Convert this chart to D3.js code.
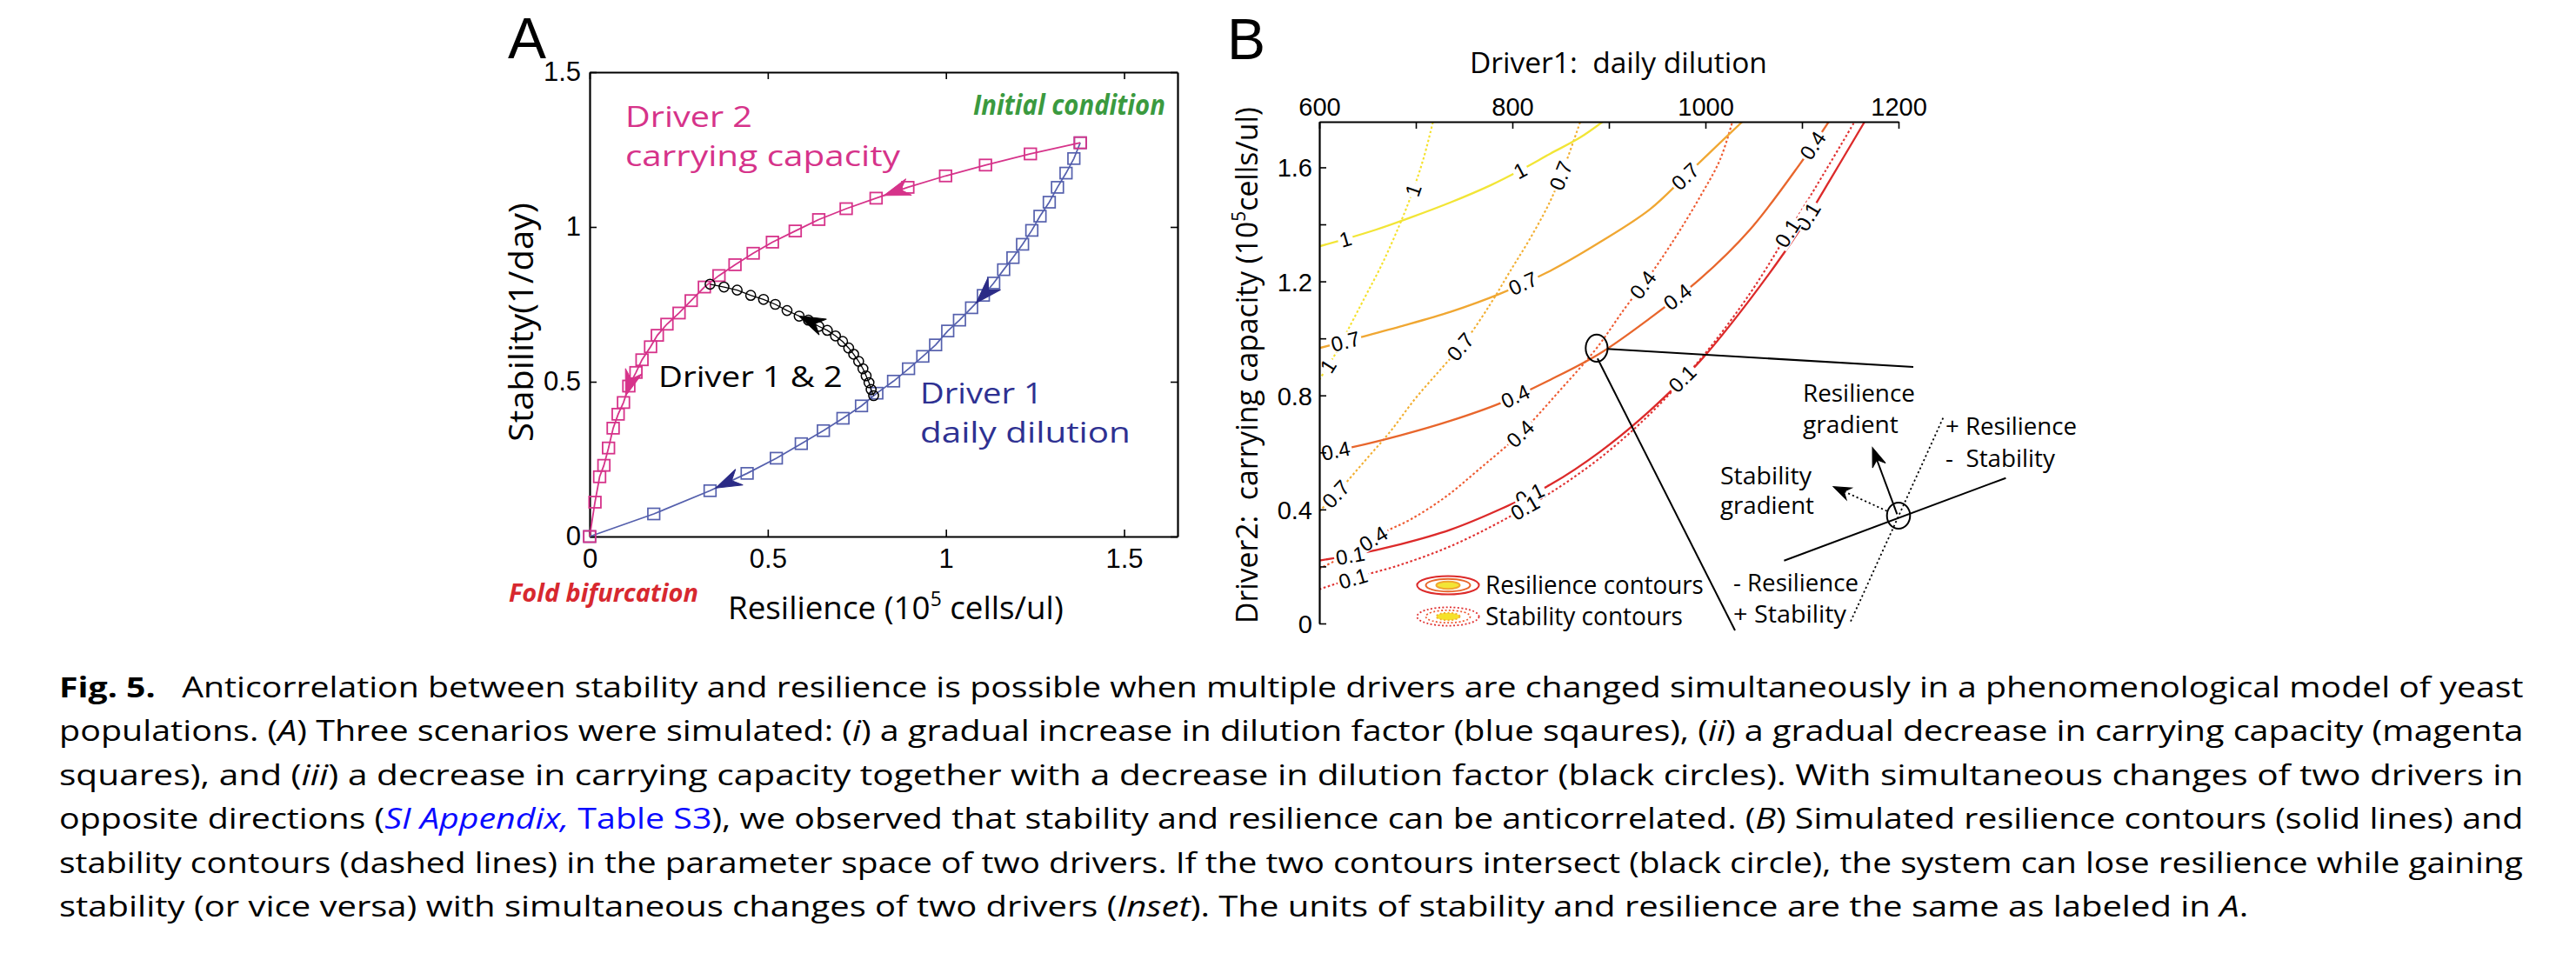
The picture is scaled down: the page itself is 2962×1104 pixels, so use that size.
<!DOCTYPE html>
<html><head><meta charset="utf-8">
<script src="https://cdn.jsdelivr.net/npm/d3@7"></script>
<style>
body{margin:0;background:#fff}
svg{display:block}
text{white-space:pre}
</style>
</head><body>
<svg id="fig" width="2962" height="1104"></svg>
<script>
// ===================== DATA =====================
// Panel A : resilience (x) vs stability (y)
const driver2Res  = [1.377,1.237,1.111,0.999,0.893,0.804,0.720,0.643,0.577,0.513,0.459,0.408,0.363,0.322,0.285,0.251,0.217,0.190,0.171,0.147,0.130,0.110,0.095,0.080,0.066,0.053,0.040,0.028,0.015,0];
const driver2Stab = [1.272,1.236,1.200,1.165,1.128,1.093,1.059,1.024,0.987,0.951,0.915,0.878,0.843,0.806,0.762,0.722,0.686,0.650,0.613,0.571,0.530,0.486,0.433,0.395,0.350,0.286,0.230,0.193,0.111,0];
const driver1Res  = [1.377,1.359,1.337,1.313,1.290,1.264,1.241,1.215,1.188,1.162,1.134,1.105,1.072,1.038,1.005,0.971,0.935,0.895,0.853,0.806,0.763,0.711,0.656,0.594,0.524,0.442,0.338,0.180,0];
const driver1Stab = [1.272,1.221,1.174,1.128,1.080,1.035,0.989,0.944,0.901,0.862,0.819,0.779,0.739,0.699,0.664,0.619,0.582,0.542,0.502,0.463,0.422,0.382,0.342,0.300,0.253,0.204,0.148,0.073,0];
const bothRes  = [0.797,0.790,0.784,0.776,0.767,0.755,0.741,0.727,0.710,0.690,0.667,0.643,0.614,0.588,0.554,0.521,0.488,0.452,0.414,0.377,0.338];
const bothStab = [0.455,0.475,0.497,0.519,0.542,0.566,0.589,0.609,0.630,0.648,0.666,0.679,0.699,0.712,0.730,0.750,0.766,0.779,0.796,0.806,0.815];
// arrow positions (fractional index along each series)
const driver2Arrows = [4.75, 21.6];
const driver1Arrows = [11.6, 25.85];
const bothArrows = [13];
const aTicks = [0, 0.5, 1, 1.5];

// Panel B : contours over Driver1 (daily dilution) x Driver2 (carrying capacity)
const levels = ["1", "0.7", "0.4", "0.1"];
const res1D1 = [600,627.4,658.4,694.6,735.9,777.3,808.3,839.3,870.3,893.5];
const res1D2 = [1.323,1.349,1.381,1.424,1.477,1.537,1.590,1.648,1.705,1.760];
const res07D1 = [600,632.6,684.2,735.9,787.6,839.3,891.0,942.6,978.8,1009.8,1038.2];
const res07D2 = [0.966,0.995,1.042,1.093,1.157,1.237,1.338,1.453,1.568,1.669,1.760];
const res04D1 = [600,632.6,684.2,735.9,787.6,839.3,891.0,942.6,994.3,1046.0,1097.7,1127.7];
const res04D2 = [0.595,0.617,0.660,0.711,0.773,0.855,0.948,1.071,1.208,1.381,1.611,1.760];
const res01D1 = [600,632.6,684.2,735.9,787.6,839.3,891.0,942.6,994.3,1046.0,1097.7,1128.7,1164.9];
const res01D2 = [0.221,0.239,0.278,0.329,0.401,0.487,0.603,0.747,0.920,1.136,1.381,1.554,1.760];
const stab1D1 = [600,617.1,632.6,648.1,663.6,679.1,694.6,707.5,717.8];
const stab1D2 = [0.855,0.948,1.049,1.150,1.251,1.366,1.496,1.626,1.760];
const stab07D1 = [600,622.2,648.1,673.9,699.7,725.6,751.4,777.3,797.9,818.6,839.3,854.8,870.3];
const stab07D2 = [0.393,0.473,0.574,0.675,0.790,0.891,0.992,1.121,1.237,1.352,1.482,1.611,1.760];
const stab04D1 = [600,632.6,663.6,694.6,730.8,766.9,808.3,849.6,887.3,916.8,942.6,968.5,994.3,1015.0,1027.9];
const stab04D2 = [0.192,0.249,0.314,0.365,0.444,0.545,0.667,0.819,0.966,1.107,1.222,1.352,1.496,1.626,1.760];
const stab01D1 = [600,632.6,684.2,735.9,787.6,839.3,891.0,942.6,994.3,1046.0,1092.5,1123.5,1154.5];
const stab01D2 = [0.120,0.156,0.206,0.271,0.357,0.458,0.581,0.735,0.925,1.157,1.410,1.583,1.760];
// contour label positions (Driver1 value along each contour)
const resLabelAt  = [[627, 808], [627, 811, 979], [617, 803, 971, 1111], [632, 818, 976, 1106]];
const stabLabelAt = [[609, 697], [617, 746, 850], [656, 808, 935], [635, 813, 1085]];
const bXTicks = [600, 700, 800, 900, 1000, 1100, 1200];
const bYTicks = [0, 0.2, 0.4, 0.6, 0.8, 1.0, 1.2, 1.4, 1.6];
const crossPoint = [887.3, 0.966];

// Caption
const BLUE_LINK = "#0a0aff";
const captionLines = [
  [{t:"Fig. 5.", b:1}, {t:"   Anticorrelation between stability and resilience is possible when multiple drivers are changed simultaneously in a phenomenological model of yeast"}],
  [{t:"populations. ("},{t:"A",i:1},{t:") Three scenarios were simulated: ("},{t:"i",i:1},{t:") a gradual increase in dilution factor (blue sqaures), ("},{t:"ii",i:1},{t:") a gradual decrease in carrying capacity (magenta"}],
  [{t:"squares), and ("},{t:"iii",i:1},{t:") a decrease in carrying capacity together with a decrease in dilution factor (black circles). With simultaneous changes of two drivers in"}],
  [{t:"opposite directions ("},{t:"SI Appendix,",i:1,c:BLUE_LINK},{t:" Table S3",c:BLUE_LINK},{t:"), we observed that stability and resilience can be anticorrelated. ("},{t:"B",i:1},{t:") Simulated resilience contours (solid lines) and"}],
  [{t:"stability contours (dashed lines) in the parameter space of two drivers. If the two contours intersect (black circle), the system can lose resilience while gaining"}],
  [{t:"stability (or vice versa) with simultaneous changes of two drivers ("},{t:"Inset",i:1},{t:"). The units of stability and resilience are the same as labeled in "},{t:"A",i:1},{t:"."}]
];
const captionWidths = [2834, 2834, 2834, 2834, 2834, 2518];

// ===================== STYLE =====================
const FONT = "'Open Sans','Noto Sans',sans-serif";
const TFONT = "'Liberation Sans',Arial,sans-serif";
const PINK = "#d6338a", BLUESQ = "#5560ad", NAVY = "#2b2b86", NAVYTXT = "#2e3192";
const GREEN = "#3b9a3f", RED = "#d7282f";
const levelColor = ["#f2e536", "#f0a732", "#e8662c", "#dc2a2a"];
const stabColor  = ["#f5e12a", "#f2ae30", "#ee5a30", "#e03030"];

const svg = d3.select("#fig");
svg.append("rect").attr("width",2962).attr("height",1104).attr("fill","#fff");

// text helper: positions text, optionally fits it to a target width
function addText(parent, o) {
  const g = parent.append("g").attr("transform", `translate(${o.x},${o.y}) rotate(${o.rotate||0})`);
  const t = g.append("text")
    .attr("font-family", o.family || FONT)
    .attr("font-size", o.size)
    .attr("font-weight", o.weight || "normal")
    .attr("font-style", o.style || "normal")
    .attr("fill", o.fill || "#000");
  const parts = o.parts || [{t:o.text}];
  parts.forEach(p => {
    const s = t.append("tspan").text(p.t);
    if (p.b) s.attr("font-weight", "bold");
    if (p.i) s.attr("font-style", "italic");
    if (p.c) s.attr("fill", p.c);
    if (p.sup) s.attr("font-size", o.size*0.62).attr("baseline-shift", "super").attr("dy", 0);
  });
  const w = t.node().getComputedTextLength();
  const sx = o.width ? o.width / w : 1;
  const eff = w * sx;
  const dx = o.anchor === "middle" ? -eff/2 : (o.anchor === "end" ? -eff : 0);
  t.attr("transform", `translate(${dx},0) scale(${sx},1)`);
  return g;
}

function arrowHead(parent, x, y, angle, len, half, color) {
  parent.append("path")
    .attr("d", `M0,0 L${-len},${-half} L${-len*0.68},0 L${-len},${half} Z`)
    .attr("transform", `translate(${x},${y}) rotate(${angle})`)
    .attr("fill", color).attr("stroke", color).attr("stroke-width", 1);
}

// ===================== PANEL A =====================
const ax = d3.scaleLinear().domain([0, 1.65]).range([678, 1354]);
const ay = d3.scaleLinear().domain([0, 1.5]).range([617, 83]);
const gA = svg.append("g");

function styleAxis(g, size) {
  g.select(".domain").attr("stroke", "#000").attr("stroke-width", 2.2);
  g.selectAll(".tick line").attr("stroke", "#000").attr("stroke-width", 1.6);
  g.selectAll(".tick text").attr("font-family", TFONT).attr("font-size", size).attr("fill", "#000");
}
const aFmt = d => d === 0 ? "0" : (d === 1 ? "1" : d3.format(".1f")(d));
styleAxis(gA.append("g").attr("transform","translate(0,617)")
  .call(d3.axisBottom(ax).tickValues(aTicks).tickFormat(aFmt).tickSize(-8).tickSizeOuter(0).tickPadding(14)), 31);
styleAxis(gA.append("g").attr("transform","translate(678,0)")
  .call(d3.axisLeft(ay).tickValues(aTicks).tickFormat(aFmt).tickSize(-8).tickSizeOuter(0).tickPadding(10)), 31);
styleAxis(gA.append("g").attr("transform","translate(0,83)")
  .call(d3.axisTop(ax).tickValues(aTicks).tickFormat("").tickSize(-8).tickSizeOuter(0)), 31);
styleAxis(gA.append("g").attr("transform","translate(1354,0)")
  .call(d3.axisRight(ay).tickValues(aTicks).tickFormat("").tickSize(-8).tickSizeOuter(0)), 31);

const lineA = d3.line().x(d => ax(d[0])).y(d => ay(d[1]));
const d2pts = driver2Res.map((v,i) => [v, driver2Stab[i]]);
const d1pts = driver1Res.map((v,i) => [v, driver1Stab[i]]);
const bpts  = bothRes.map((v,i) => [v, bothStab[i]]);

gA.append("path").attr("d", lineA(d1pts)).attr("fill","none").attr("stroke",BLUESQ).attr("stroke-width",1.7);
gA.selectAll(".sq1").data(d1pts).enter().append("rect")
  .attr("x", d => ax(d[0]) - 6.8).attr("y", d => ay(d[1]) - 6.5)
  .attr("width", 13.6).attr("height", 13).attr("fill","none").attr("stroke",BLUESQ).attr("stroke-width",1.7);
gA.append("path").attr("d", lineA(d2pts)).attr("fill","none").attr("stroke",PINK).attr("stroke-width",1.8);
gA.selectAll(".sq2").data(d2pts).enter().append("rect")
  .attr("x", d => ax(d[0]) - 6.8).attr("y", d => ay(d[1]) - 6.5)
  .attr("width", 13.6).attr("height", 13).attr("fill","none").attr("stroke",PINK).attr("stroke-width",1.8);
gA.append("path").attr("d", lineA(bpts)).attr("fill","none").attr("stroke","#000").attr("stroke-width",1.3);
gA.selectAll(".ci").data(bpts).enter().append("circle")
  .attr("cx", d => ax(d[0])).attr("cy", d => ay(d[1])).attr("r", 5.6)
  .attr("fill","none").attr("stroke","#000").attr("stroke-width",1.5);

function seriesArrow(pts, t, color) {
  const i = Math.floor(t), f = t - i;
  const p0 = pts[i], p1 = pts[i+1];
  const x0 = ax(p0[0]), y0 = ay(p0[1]), x1 = ax(p1[0]), y1 = ay(p1[1]);
  const x = x0 + (x1-x0)*f, y = y0 + (y1-y0)*f;
  const ang = Math.atan2(y1-y0, x1-x0) * 180 / Math.PI;
  arrowHead(gA, x, y, ang, 30, 10, color);
}
driver2Arrows.forEach(t => seriesArrow(d2pts, t, PINK));
driver1Arrows.forEach(t => seriesArrow(d1pts, t, NAVY));
bothArrows.forEach(t => seriesArrow(bpts, t, "#000"));

// Panel A texts
addText(svg, {x:584, y:67, text:"A", size:66, family:TFONT, width:44});
addText(gA, {x:719, y:146, text:"Driver 2", size:33, fill:PINK, width:146});
addText(gA, {x:719, y:191, text:"carrying capacity", size:33, fill:PINK, width:316});
addText(gA, {x:1119, y:132, text:"Initial condition", size:32, weight:"bold", style:"italic", fill:GREEN, width:221});
addText(gA, {x:757, y:445, text:"Driver 1 & 2", size:33, fill:"#000", width:212});
addText(gA, {x:1058, y:464, text:"Driver 1", size:33, fill:NAVYTXT, width:141});
addText(gA, {x:1058, y:509, text:"daily dilution", size:33, fill:NAVYTXT, width:242});
addText(gA, {x:585, y:692, text:"Fold bifurcation", size:28, weight:"bold", style:"italic", fill:RED, width:218});
addText(gA, {x:837, y:712, parts:[{t:"Resilience (10"},{t:"5",sup:1},{t:" cells/ul)"}], size:37, width:386});
addText(gA, {x:613, y:508, rotate:-90, text:"Stability(1/day)", size:38, width:275});

// ===================== PANEL B =====================
const bx = d3.scaleLinear().domain([600, 1200]).range([1517, 2183]);
const by = d3.scaleLinear().domain([0, 1.76]).range([717, 140]);
const gB = svg.append("g");
gB.append("clipPath").attr("id","clipB").append("rect")
  .attr("x", 1517).attr("y", 140).attr("width", 666).attr("height", 577);

const resCurves = [[res1D1,res1D2],[res07D1,res07D2],[res04D1,res04D2],[res01D1,res01D2]];
const stabCurves = [[stab1D1,stab1D2],[stab07D1,stab07D2],[stab04D1,stab04D2],[stab01D1,stab01D2]];
const lineB = d3.line().x(d => bx(d[0])).y(d => by(d[1])).curve(d3.curveCatmullRom.alpha(0.5));
const plotB = gB.append("g").attr("clip-path","url(#clipB)");

stabCurves.forEach((c, k) => {
  plotB.append("path").attr("d", lineB(c[0].map((v,i)=>[v,c[1][i]])))
    .attr("fill","none").attr("stroke", stabColor[k]).attr("stroke-width", 2.1)
    .attr("stroke-dasharray", "2.6,2.6");
});
resCurves.forEach((c, k) => {
  plotB.append("path").attr("d", lineB(c[0].map((v,i)=>[v,c[1][i]])))
    .attr("fill","none").attr("stroke", levelColor[k]).attr("stroke-width", 2.3);
});

function interp(xs, ys, xv) {
  for (let i = 0; i < xs.length - 1; i++) {
    if (xv >= xs[i] && xv <= xs[i+1]) {
      const f = (xv - xs[i]) / (xs[i+1] - xs[i]);
      return ys[i] + f * (ys[i+1] - ys[i]);
    }
  }
  return ys[ys.length-1];
}
function contourLabel(curve, xv, txt) {
  const yv = interp(curve[0], curve[1], xv);
  const xa = Math.max(600, xv - 4), xb = xv + 4;
  const pa = [bx(xa), by(interp(curve[0], curve[1], xa))];
  const pb = [bx(xb), by(interp(curve[0], curve[1], xb))];
  const ang = Math.atan2(pb[1]-pa[1], pb[0]-pa[0]) * 180 / Math.PI;
  const g = gB.append("g").attr("transform", `translate(${bx(xv)},${by(yv)}) rotate(${ang})`);
  const t = g.append("text").attr("font-family", TFONT).attr("font-size", 24)
    .attr("text-anchor","middle").attr("dy","0.36em").text(txt);
  const w = t.node().getComputedTextLength();
  g.insert("rect","text").attr("x", -w/2 - 2).attr("y", -10).attr("width", w + 4).attr("height", 20).attr("fill","#fff");
}
resLabelAt.forEach((arr, k) => arr.forEach(xv => contourLabel(resCurves[k], xv, levels[k])));
stabLabelAt.forEach((arr, k) => arr.forEach(xv => contourLabel(stabCurves[k], xv, levels[k])));

// Axes of panel B (top and left only)
const gBx = gB.append("g").attr("transform","translate(0,140)")
  .call(d3.axisTop(bx).tickValues(bXTicks).tickFormat(d => d % 200 === 0 ? d : "").tickSize(-8).tickSizeOuter(0).tickPadding(7));
styleAxis(gBx, 29);
const gBy = gB.append("g").attr("transform","translate(1517,0)")
  .call(d3.axisLeft(by).tickValues(bYTicks).tickFormat(d => (Math.round(d*10) % 4 === 0) ? (d === 0 ? "0" : d3.format(".1f")(d)) : "").tickSize(-8).tickSizeOuter(0).tickPadding(8));
styleAxis(gBy, 29);
gBy.selectAll(".tick text").attr("dy", "0.36em");

addText(svg, {x:1411, y:68, text:"B", size:66, family:TFONT, width:44});
addText(gB, {x:1690, y:84, text:"Driver1:  daily dilution", size:32, width:342});
addText(gB, {x:1446, y:717, rotate:-90, parts:[{t:"Driver2:  carrying capacity (10"},{t:"5",sup:1},{t:"cells/ul)"}], size:34, width:594});

// intersection circle & zoom lines
const cx0 = bx(crossPoint[0]), cy0 = by(crossPoint[1]);
gB.append("ellipse").attr("cx", cx0).attr("cy", cy0).attr("rx", 12.6).attr("ry", 15.6)
  .attr("fill","none").attr("stroke","#000").attr("stroke-width",2);
gB.append("line").attr("x1", cx0 + 12).attr("y1", cy0 + 1).attr("x2", 2200).attr("y2", 422)
  .attr("stroke","#000").attr("stroke-width",2);
gB.append("line").attr("x1", cx0 + 1).attr("y1", cy0 + 12).attr("x2", 1995).attr("y2", 725)
  .attr("stroke","#000").attr("stroke-width",2);

// inset
const inset = gB.append("g").attr("transform", "translate(2183,593)");
inset.append("line").attr("x1",-131.6).attr("y1",51.7).attr("x2",123.4).attr("y2",-43.3).attr("stroke","#000").attr("stroke-width",2);
inset.append("line").attr("x1",-55).attr("y1",121.7).attr("x2",51.7).attr("y2",-113.3).attr("stroke","#000").attr("stroke-width",1.8).attr("stroke-dasharray","2.2,3");
inset.append("ellipse").attr("cx",0).attr("cy",0).attr("rx",13.3).attr("ry",15).attr("fill","none").attr("stroke","#000").attr("stroke-width",2);
inset.append("line").attr("x1",-1.6).attr("y1",-1.6).attr("x2",-27).attr("y2",-70).attr("stroke","#000").attr("stroke-width",2);
arrowHead(inset, -30, -78.3, Math.atan2(-76.7, -28.4)*180/Math.PI, 22, 8, "#000");
inset.append("line").attr("x1",-13.3).attr("y1",-5.3).attr("x2",-68).attr("y2",-30.3).attr("stroke","#000").attr("stroke-width",1.8).attr("stroke-dasharray","2.2,3");
arrowHead(inset, -75, -33.3, Math.atan2(-28, -61.7)*180/Math.PI, 20, 7.5, "#000");

addText(gB, {x:2073, y:462, text:"Resilience", size:27, width:129});
addText(gB, {x:2073, y:498, text:"gradient", size:27, width:110});
addText(gB, {x:2237, y:500, text:"+ Resilience", size:27, width:151});
addText(gB, {x:2237, y:537, text:"-  Stability", size:27, width:126});
addText(gB, {x:1978, y:557, text:"Stability", size:27, width:105});
addText(gB, {x:1978, y:591, text:"gradient", size:27, width:108});
addText(gB, {x:1993, y:680, text:"- Resilience", size:27, width:144});
addText(gB, {x:1993, y:716, text:"+ Stability", size:27, width:130});

// legend
const lg = gB.append("g");
[[35.6,10.6,levelColor[3]],[25.5,7.2,levelColor[2]],[13.5,4.3,levelColor[1]]].forEach((e,k) => {
  lg.append("ellipse").attr("cx",1665).attr("cy",673).attr("rx",e[0]).attr("ry",e[1])
    .attr("fill", k === 2 ? levelColor[0] : "none").attr("stroke", e[2]).attr("stroke-width", 2);
});
[[35.6,10.6,stabColor[3]],[25.5,7.2,stabColor[2]],[13.5,4.3,stabColor[1]]].forEach((e,k) => {
  lg.append("ellipse").attr("cx",1665).attr("cy",709).attr("rx",e[0]).attr("ry",e[1])
    .attr("fill", k === 2 ? stabColor[0] : "none").attr("stroke", e[2]).attr("stroke-width", 1.8)
    .attr("stroke-dasharray", "2,2.4");
});
addText(gB, {x:1708, y:683, text:"Resilience contours", size:29, width:251});
addText(gB, {x:1708, y:719, text:"Stability contours", size:29, width:227});

// ===================== CAPTION =====================
const gC = svg.append("g");
captionLines.forEach((parts, i) => {
  addText(gC, {x:68, y:802 + i*50.4, parts, size:32, weight:500, width:captionWidths[i]});
});
</script>
</body></html>
